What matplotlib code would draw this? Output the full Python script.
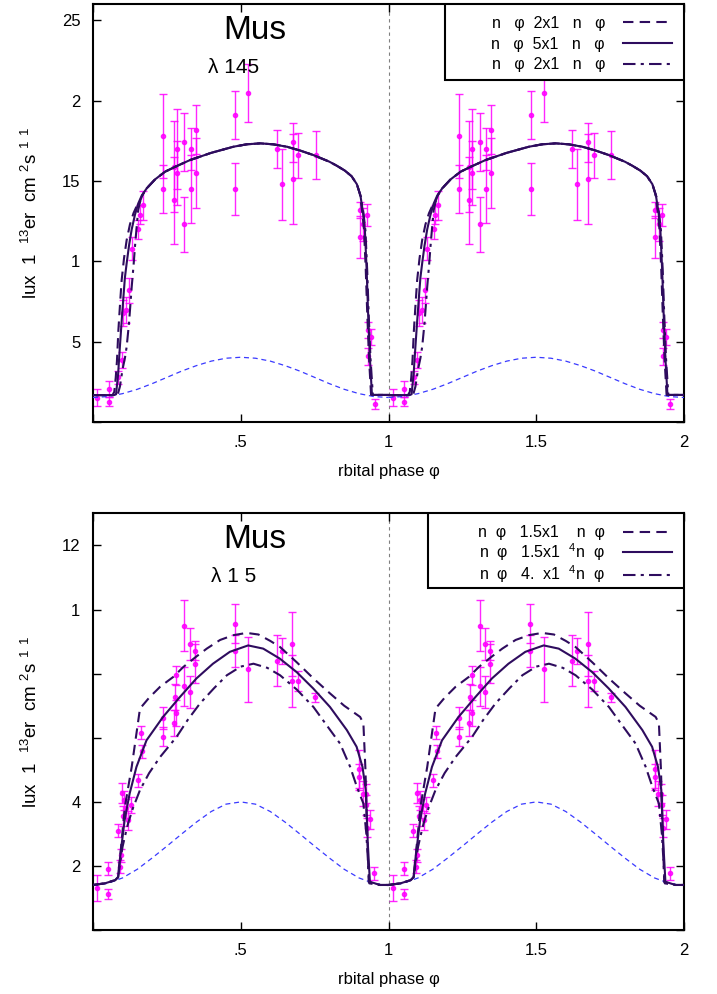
import matplotlib
matplotlib.use("Agg")
import matplotlib.pyplot as plt
from matplotlib.patches import Rectangle

plt.rcParams.update({"font.family": ["Liberation Sans", "DejaVu Sans"], "font.size": 12,
                     "xtick.direction": "in", "ytick.direction": "in",
                     "xtick.top": True, "ytick.right": True,
                     "xtick.major.size": 6, "ytick.major.size": 6,
                     "xtick.major.width": 1, "ytick.major.width": 1,
                     "axes.linewidth": 1.5, "mathtext.fontset": "custom",
                     "mathtext.rm": "Liberation Sans", "mathtext.it": "Liberation Sans"})

MOD = "#2e0c5e"; BLUE = "#3a3aff"; MAG = "#ff00ff"

# ---- top panel (lambda 145) : observed points, phase 0-1 (repeated at +1)
top_phase = [0.015, 0.053, 0.053, 0.086, 0.097, 0.103, 0.112, 0.123, 0.131, 0.153, 0.159, 0.168,
             0.238, 0.238, 0.274, 0.274, 0.283, 0.283, 0.309, 0.309, 0.330, 0.330, 0.347, 0.347,
             0.481, 0.481, 0.526, 0.622, 0.639, 0.676, 0.676, 0.695, 0.753,
             0.903, 0.903, 0.914, 0.926, 0.929, 0.930, 0.940, 0.954]
top_flux = [0.155, 0.21, 0.13, 0.28, 0.39, 0.68, 0.70, 0.82, 1.08, 1.20, 1.29, 1.35,
            1.78, 1.45, 1.38, 1.59, 1.70, 1.55, 1.74, 1.23, 1.70, 1.45, 1.82, 1.55,
            1.91, 1.45, 2.045, 1.70, 1.48, 1.74, 1.51, 1.66, 1.66,
            1.32, 1.15, 1.23, 1.29, 0.575, 0.41, 0.533, 0.115]
top_err = [0.05, 0.05, 0.03, 0.04, 0.05, 0.08, 0.08, 0.08, 0.07, 0.06, 0.06, 0.09,
           0.26, 0.15, 0.27, 0.28, 0.25, 0.20, 0.18, 0.17, 0.13, 0.21, 0.15, 0.22,
           0.15, 0.16, 0.18, 0.12, 0.22, 0.12, 0.28, 0.14, 0.15,
           0.05, 0.13, 0.10, 0.07, 0.05, 0.05, 0.05, 0.03]

# top model curves: rise / shared plateau / fall
top_plat_ph = [0.182, 0.21, 0.244, 0.28, 0.328, 0.40, 0.475, 0.52, 0.566, 0.61, 0.656, 0.70,
               0.746, 0.80, 0.825, 0.852, 0.875, 0.893]
top_plat = [1.455, 1.51, 1.558, 1.59, 1.63, 1.675, 1.713, 1.728, 1.734, 1.728, 1.713, 1.69,
            1.661, 1.62, 1.595, 1.565, 1.53, 1.48]
top_sol_rise_ph = [0, 0.07, 0.078, 0.085, 0.091, 0.097, 0.103, 0.108, 0.114, 0.122, 0.131, 0.142, 0.153, 0.165]
top_sol_rise = [0.17, 0.17, 0.175, 0.30, 0.47, 0.63, 0.78, 0.90, 0.99, 1.10, 1.20, 1.29, 1.36, 1.41]
top_sol_fall_ph = [0.905, 0.914, 0.92, 0.926, 0.931, 0.937, 0.944, 1.0]
top_sol_fall = [1.41, 1.30, 1.196, 0.95, 0.678, 0.40, 0.171, 0.171]
top_dsh_rise_ph = [0, 0.066, 0.072, 0.077, 0.081, 0.086, 0.092, 0.097, 0.105, 0.114, 0.125, 0.137, 0.148, 0.158, 0.168]
top_dsh_rise = [0.17, 0.17, 0.19, 0.28, 0.38, 0.575, 0.75, 0.885, 1.02, 1.134, 1.23, 1.30, 1.345, 1.37, 1.415]
top_dsh_fall_ph = [0.903, 0.911, 0.917, 0.923, 0.928, 0.934, 0.941, 1.0]
top_dsh_fall = [1.42, 1.31, 1.20, 0.95, 0.68, 0.40, 0.171, 0.171]
top_dd_rise_ph = [0, 0.083, 0.091, 0.10, 0.108, 0.114, 0.122, 0.131, 0.137, 0.142, 0.148, 0.153, 0.16, 0.168]
top_dd_rise = [0.17, 0.17, 0.222, 0.33, 0.40, 0.471, 0.62, 0.843, 0.97, 1.092, 1.22, 1.32, 1.375, 1.415]
top_dd_fall_ph = [0.907, 0.916, 0.922, 0.928, 0.933, 0.939, 0.947, 1.0]
top_dd_fall = [1.40, 1.29, 1.19, 0.94, 0.67, 0.40, 0.171, 0.171]

blue_ph = [0, 0.05, 0.1, 0.15, 0.2, 0.25, 0.3, 0.35, 0.4, 0.45, 0.5,
           0.55, 0.6, 0.65, 0.7, 0.75, 0.8, 0.85, 0.9, 0.95, 1.0]
top_blue = [0.155, 0.161, 0.179, 0.206, 0.241, 0.28, 0.319, 0.353, 0.381, 0.399, 0.405,
            0.399, 0.381, 0.353, 0.319, 0.28, 0.241, 0.206, 0.179, 0.161, 0.155]

# ---- bottom panel (lambda 1 5)
bot_phase = [0.014, 0.052, 0.052, 0.083, 0.093, 0.096, 0.098, 0.102, 0.105, 0.111, 0.119, 0.128,
             0.152, 0.162, 0.165, 0.237, 0.237, 0.274, 0.277, 0.282, 0.282, 0.308, 0.308,
             0.327, 0.327, 0.345, 0.345, 0.480, 0.480, 0.525, 0.621, 0.638, 0.675, 0.675,
             0.694, 0.752, 0.901, 0.901, 0.912, 0.923, 0.925, 0.928, 0.939, 0.951]
bot_flux = [0.132, 0.192, 0.112, 0.31, 0.198, 0.234, 0.428, 0.356, 0.405, 0.38, 0.343, 0.39,
            0.468, 0.616, 0.558, 0.662, 0.603, 0.646, 0.727, 0.795, 0.678, 0.95, 0.76,
            0.892, 0.743, 0.871, 0.831, 0.956, 0.87, 0.813, 0.84, 0.87, 0.892, 0.777,
            0.777, 0.726, 0.502, 0.478, 0.426, 0.426, 0.39, 0.32, 0.346, 0.177]
bot_err = [0.04, 0.02, 0.015, 0.02, 0.02, 0.02, 0.03, 0.03, 0.03, 0.03, 0.03, 0.025,
           0.02, 0.02, 0.02, 0.035, 0.03, 0.04, 0.04, 0.03, 0.04, 0.08, 0.06,
           0.05, 0.05, 0.03, 0.06, 0.06, 0.05, 0.1, 0.08, 0.04, 0.1, 0.08,
           0.03, 0.015, 0.06, 0.04, 0.04, 0.03, 0.03, 0.03, 0.03, 0.02]

bot_sol_ph = [0, 0.04, 0.075, 0.085, 0.088, 0.096, 0.107, 0.124, 0.147, 0.181, 0.237, 0.294, 0.35,
              0.406, 0.463, 0.525, 0.576, 0.632, 0.689, 0.745, 0.802, 0.859, 0.892, 0.912, 0.923,
              0.930, 0.937, 0.971, 1.0]
bot_sol = [0.141, 0.146, 0.156, 0.165, 0.198, 0.26, 0.343, 0.426, 0.509, 0.592, 0.665, 0.727, 0.785,
           0.831, 0.868, 0.888, 0.878, 0.847, 0.805, 0.754, 0.696, 0.624, 0.572, 0.509, 0.437,
           0.27, 0.151, 0.141, 0.141]
bot_dsh_ph = [0, 0.04, 0.075, 0.086, 0.097, 0.108, 0.12, 0.131, 0.145, 0.159, 0.19, 0.227, 0.272,
              0.306, 0.345, 0.385, 0.43, 0.475, 0.52, 0.56, 0.60, 0.633, 0.69, 0.746, 0.80, 0.85,
              0.904, 0.915, 0.922, 0.928, 0.933, 0.971, 1.0]
bot_dsh = [0.141, 0.146, 0.156, 0.167, 0.28, 0.385, 0.45, 0.509, 0.60, 0.691, 0.725, 0.759, 0.79,
           0.821, 0.85, 0.878, 0.905, 0.92, 0.927, 0.922, 0.902, 0.883, 0.835, 0.785, 0.74, 0.70,
           0.665, 0.645, 0.50, 0.30, 0.15, 0.141, 0.141]
bot_dd_ph = [0, 0.04, 0.075, 0.085, 0.09, 0.10, 0.11, 0.119, 0.135, 0.159, 0.19, 0.227, 0.283, 0.32,
             0.362, 0.41, 0.453, 0.50, 0.543, 0.59, 0.633, 0.69, 0.746, 0.79, 0.836, 0.87, 0.893,
             0.915, 0.925, 0.935, 0.971, 1.0]
bot_dd = [0.141, 0.146, 0.156, 0.165, 0.198, 0.26, 0.30, 0.334, 0.38, 0.437, 0.49, 0.54, 0.603, 0.655,
          0.707, 0.755, 0.795, 0.822, 0.831, 0.818, 0.795, 0.75, 0.696, 0.64, 0.582, 0.51, 0.447,
          0.395, 0.30, 0.146, 0.141, 0.141]
bot_blue = [0.14, 0.146, 0.163, 0.19, 0.225, 0.262, 0.30, 0.337, 0.37, 0.393, 0.40,
            0.393, 0.37, 0.337, 0.30, 0.262, 0.225, 0.19, 0.163, 0.146, 0.14]

top_labels = ["n   φ  2x1   n   φ", "n   φ  5x1   n   φ", "n   φ  2x1   n   φ"]
bot_labels = ["n  φ   1.5x1    n  φ", "n  φ   1.5x1  ${}^{4}$n  φ", "n  φ   4.  x1  ${}^{4}$n  φ"]
ylab = "lux  1  ${}^{13}$er  cm ${}^{2}$s ${}^{1}$ ${}^{1}$"

fig = plt.figure(figsize=(7.17, 9.94), dpi=100)
ax1 = fig.add_axes([0.1297, 0.5750, 0.8243, 0.4210])
ax2 = fig.add_axes([0.1297, 0.0642, 0.8243, 0.4194])

def panel(ax, curves, blue, pts, labels, ylim, yt, ytl, sub, box, lsp):
    styles = [(0, (5, 3)), "-", (0, (6, 2.5, 1.5, 2.5))]
    for off in (0, 1):
        ph, fl, er = pts
        ax.errorbar([p + off for p in ph], fl, yerr=er, fmt="o", ms=3.0, color=MAG, ecolor=MAG,
                    elinewidth=1.0, capsize=3, capthick=1.0, alpha=0.85, zorder=2)
        ax.plot([p + off for p in blue_ph], blue, color=BLUE, lw=0.9, ls=(0, (4, 3)), zorder=3)
        for (cph, cv), ls, lab in zip(curves, styles, labels):
            ax.plot([p + off for p in cph], cv, color=MOD, lw=1.5, ls=ls, zorder=4,
                    label=lab if off == 0 else None)
    ax.axvline(1, color="gray", lw=0.8, ls=(0, (3, 3)), zorder=1)
    ax.set_xlim(0, 2); ax.set_ylim(*ylim)
    ax.set_xticks([0, 0.5, 1, 1.5, 2]); ax.set_xticklabels(["", ".5", "1", "1.5", "2"])
    ax.set_yticks(yt); ax.set_yticklabels(ytl)
    ax.tick_params(labelsize=12, pad=9)
    ax.set_xlabel("rbital phase φ", fontsize=12, labelpad=10)
    ax.set_ylabel(ylab, fontsize=13.5, labelpad=15)
    ax.text(0.273, 0.936, "Mus", transform=ax.transAxes, ha="center", va="center", fontsize=24)
    ax.text(0.238, 0.848, sub, transform=ax.transAxes, ha="center", va="center", fontsize=15)
    # gnuplot-style key: wide box, right-aligned entries
    ax.add_patch(Rectangle((box[0], box[1]), 1 - box[0], 1 - box[1], transform=ax.transAxes,
                           fc="white", ec="black", lw=1.5, zorder=5))
    leg = ax.legend(loc="upper right", bbox_to_anchor=(1, 1), borderaxespad=0, markerfirst=False,
                    frameon=False, handlelength=3.1, fontsize=11.5, labelspacing=lsp,
                    borderpad=0.75, handletextpad=1.1)
    leg.set_zorder(6)

top_curves = [(top_dsh_rise_ph + top_plat_ph + top_dsh_fall_ph, top_dsh_rise + top_plat + top_dsh_fall),
              (top_sol_rise_ph + top_plat_ph + top_sol_fall_ph, top_sol_rise + top_plat + top_sol_fall),
              (top_dd_rise_ph + top_plat_ph + top_dd_fall_ph, top_dd_rise + top_plat + top_dd_fall)]
bot_curves = [(bot_dsh_ph, bot_dsh), (bot_sol_ph, bot_sol), (bot_dd_ph, bot_dd)]

panel(ax1, top_curves, top_blue, (top_phase, top_flux, top_err), top_labels, (0, 2.6),
      [0, 0.5, 1, 1.5, 2, 2.5], ["", "5", "1", "15", "2", "25"], "λ 145", (0.596, 0.818), 0.35)
panel(ax2, bot_curves, bot_blue, (bot_phase, bot_flux, bot_err), bot_labels, (0, 1.3),
      [0, 0.2, 0.4, 0.6, 0.8, 1.0, 1.2], ["", "2", "4", "", "", "1", "12"], "λ 1 5", (0.567, 0.821), 0.05)

fig.savefig("out.png", dpi=100)
